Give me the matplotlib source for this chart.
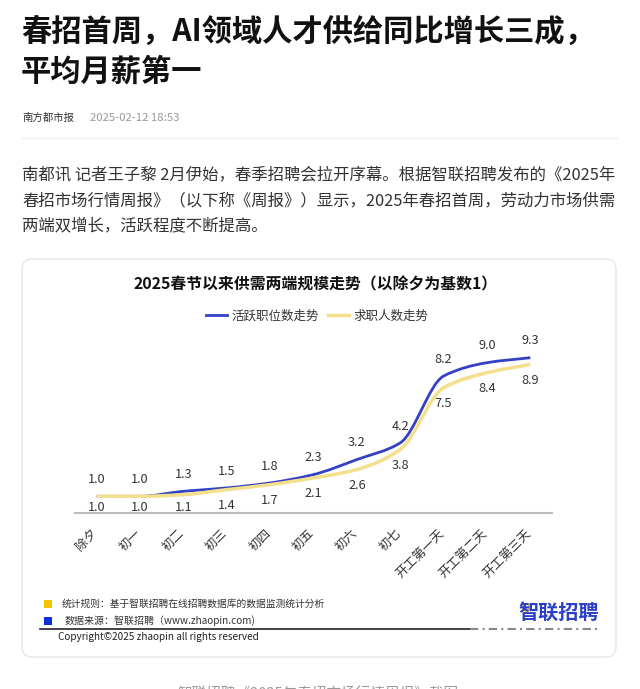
import numpy as np
import matplotlib.pyplot as plt
import matplotlib.transforms as mtransforms
from matplotlib.path import Path
from matplotlib.patches import PathPatch, FancyBboxPatch, Rectangle
from matplotlib.lines import Line2D

plt.rcParams['font.family'] = ['Noto Sans CJK SC', 'DejaVu Sans']

days = ['除夕', '初一', '初二', '初三', '初四', '初五', '初六', '初七',
        '开工第一天', '开工第二天', '开工第三天']
jobs = [1.0, 1.0, 1.3, 1.5, 1.8, 2.3, 3.2, 4.2, 8.2, 9.0, 9.3]
seekers = [1.0, 1.0, 1.1, 1.4, 1.7, 2.1, 2.6, 3.8, 7.5, 8.4, 8.9]
names = ['活跃职位数走势', '求职人数走势']

headline = ['春招首周，AI领域人才供给同比增长三成，', '平均月薪第一']
body = ['南都讯 记者王子黎 2月伊始，春季招聘会拉开序幕。根据智联招聘发布的《2025年',
        '春招市场行情周报》（以下称《周报》）显示，2025年春招首周，劳动力市场供需',
        '两端双增长，活跃程度不断提高。']
chart_title = '2025春节以来供需两端规模走势（以除夕为基数1）'

BLUE = '#3341c4'
YELLOW = '#f3df8c'

W, H = 640, 689
fig = plt.figure(figsize=(W / 100, H / 100), dpi=100)


def fx(x):
    return x / W


def fy(y):
    return 1 - y / H


def smooth_path(xs, ys):
    # monotone cubic bezier through the points
    xs = np.asarray(xs, float)
    ys = np.asarray(ys, float)
    d = np.diff(ys) / np.diff(xs)
    m = np.zeros_like(ys)
    m[0], m[-1] = d[0], d[-1]
    for k in range(1, len(ys) - 1):
        if d[k - 1] * d[k] > 0:
            m[k] = 2 / (1 / d[k - 1] + 1 / d[k])
    verts = [(xs[0], ys[0])]
    codes = [Path.MOVETO]
    for k in range(len(xs) - 1):
        h = xs[k + 1] - xs[k]
        verts += [(xs[k] + h / 3, ys[k] + m[k] * h / 3),
                  (xs[k + 1] - h / 3, ys[k + 1] - m[k + 1] * h / 3),
                  (xs[k + 1], ys[k + 1])]
        codes += [Path.CURVE4] * 3
    return Path(verts, codes)


# article header
fig.text(fx(21), fy(32), headline[0], fontsize=21.8, fontweight='bold', color='#111', va='center')
fig.text(fx(21), fy(72), headline[1], fontsize=21.8, fontweight='bold', color='#111', va='center')
fig.text(fx(22), fy(118), '南方都市报', fontsize=7.5, color='#333', va='center')
fig.text(fx(90), fy(118), '2025-02-12 18:53', fontsize=8.2, color='#999', va='center')
fig.add_artist(Line2D([fx(22), fx(617)], [fy(138), fy(138)], color='#f0f0f0', lw=1))
for i, line in enumerate(body):
    fig.text(fx(22), fy(175 + 25.5 * i), line, fontsize=11.8, color='#333', va='center')

# chart card
card = FancyBboxPatch((fx(22), fy(657)), fx(616) - fx(22), fy(259) - fy(657),
                      boxstyle='round,pad=0,rounding_size=0.015',
                      transform=fig.transFigure, fc='white', ec='#e6e6e6', lw=1,
                      zorder=-5)
fig.add_artist(card)
fig.text(fx(316), fy(284), chart_title, fontsize=11.4, fontweight='bold', color='#111',
         ha='center', va='center')

ax = fig.add_axes([fx(75), fy(513), (552 - 75) / W, 167 / H])
ax.patch.set_alpha(0)
x = np.arange(len(days))
ax.add_patch(PathPatch(smooth_path(x, jobs), fc='none', ec=BLUE, lw=2, zorder=3))
ax.add_patch(PathPatch(smooth_path(x, seekers), fc='none', ec=YELLOW, lw=2.5, zorder=4))
for i in x:
    ax.text(i, jobs[i] + 1.0, f'{jobs[i]:.1f}', ha='center', va='center',
            fontsize=9.2, color='#333')
    ax.text(i, max(seekers[i] - 0.96, 0.33), f'{seekers[i]:.1f}', ha='center', va='center',
            fontsize=9.2, color='#333')

ax.set_xlim(-0.5, len(days) - 0.5)
ax.set_ylim(0, 10)
ax.set_yticks([])
for s in ['top', 'right', 'left']:
    ax.spines[s].set_visible(False)
ax.spines['bottom'].set_color('#bdbdbd')
ax.spines['bottom'].set_linewidth(1.5)
ax.set_xticks(x)
ax.set_xticklabels(days, rotation=45, ha='right', va='top', rotation_mode='anchor',
                   fontsize=9, color='#333')
ax.tick_params(axis='x', length=0, pad=10)
shift = mtransforms.ScaledTranslation(-6 / 100, 0, fig.dpi_scale_trans)
for lab in ax.get_xticklabels():
    lab.set_transform(lab.get_transform() + shift)

handles = [Line2D([], [], color=BLUE, lw=2), Line2D([], [], color=YELLOW, lw=2.5)]
ax.legend(handles, names, loc='center', bbox_to_anchor=(fx(317), fy(316)),
          bbox_transform=fig.transFigure, ncol=2, frameon=False, fontsize=9,
          handlelength=1.7, handletextpad=0.35, columnspacing=0.7, labelcolor='#333')

# footer
fig.add_artist(Rectangle((fx(44), fy(608)), 8 / W, 8 / H, transform=fig.transFigure,
                         fc='#f5c400', ec='none'))
fig.add_artist(Rectangle((fx(44), fy(625)), 8 / W, 8 / H, transform=fig.transFigure,
                         fc='#0a2fd6', ec='none'))
fig.text(fx(62), fy(604), '统计规则：基于智联招聘在线招聘数据库的数据监测统计分析',
         fontsize=7, color='#333', va='center')
fig.text(fx(65), fy(621), '数据来源：智联招聘（www.zhaopin.com)', fontsize=7.2,
         color='#333', va='center')
fig.add_artist(Line2D([fx(40), fx(470)], [fy(629), fy(629)], color='#222', lw=1.2))
fig.add_artist(Line2D([fx(470), fx(600)], [fy(629), fy(629)], color='#888', lw=1.5,
                      dashes=(4, 2, 1, 2)))
fig.text(fx(58), fy(637), 'Copyright©2025 zhaopin all rights reserved', fontsize=7.2,
         color='#222', va='center')
fig.text(fx(518), fy(612), '智联招聘', fontsize=14.5, fontweight='bold', color='#2b3fc8',
         va='center')
fig.add_artist(Line2D([fx(526)], [fy(607)], marker='o', ms=5, mfc='none', mec='#f5c400',
                      mew=1.5, transform=fig.transFigure))

fig.text(fx(318), fy(695), '智联招聘《2025年春招市场行情周报》截图', fontsize=10.5,
         color='#999', ha='center', va='center')

fig.savefig('out.png', dpi=100, facecolor='white')
